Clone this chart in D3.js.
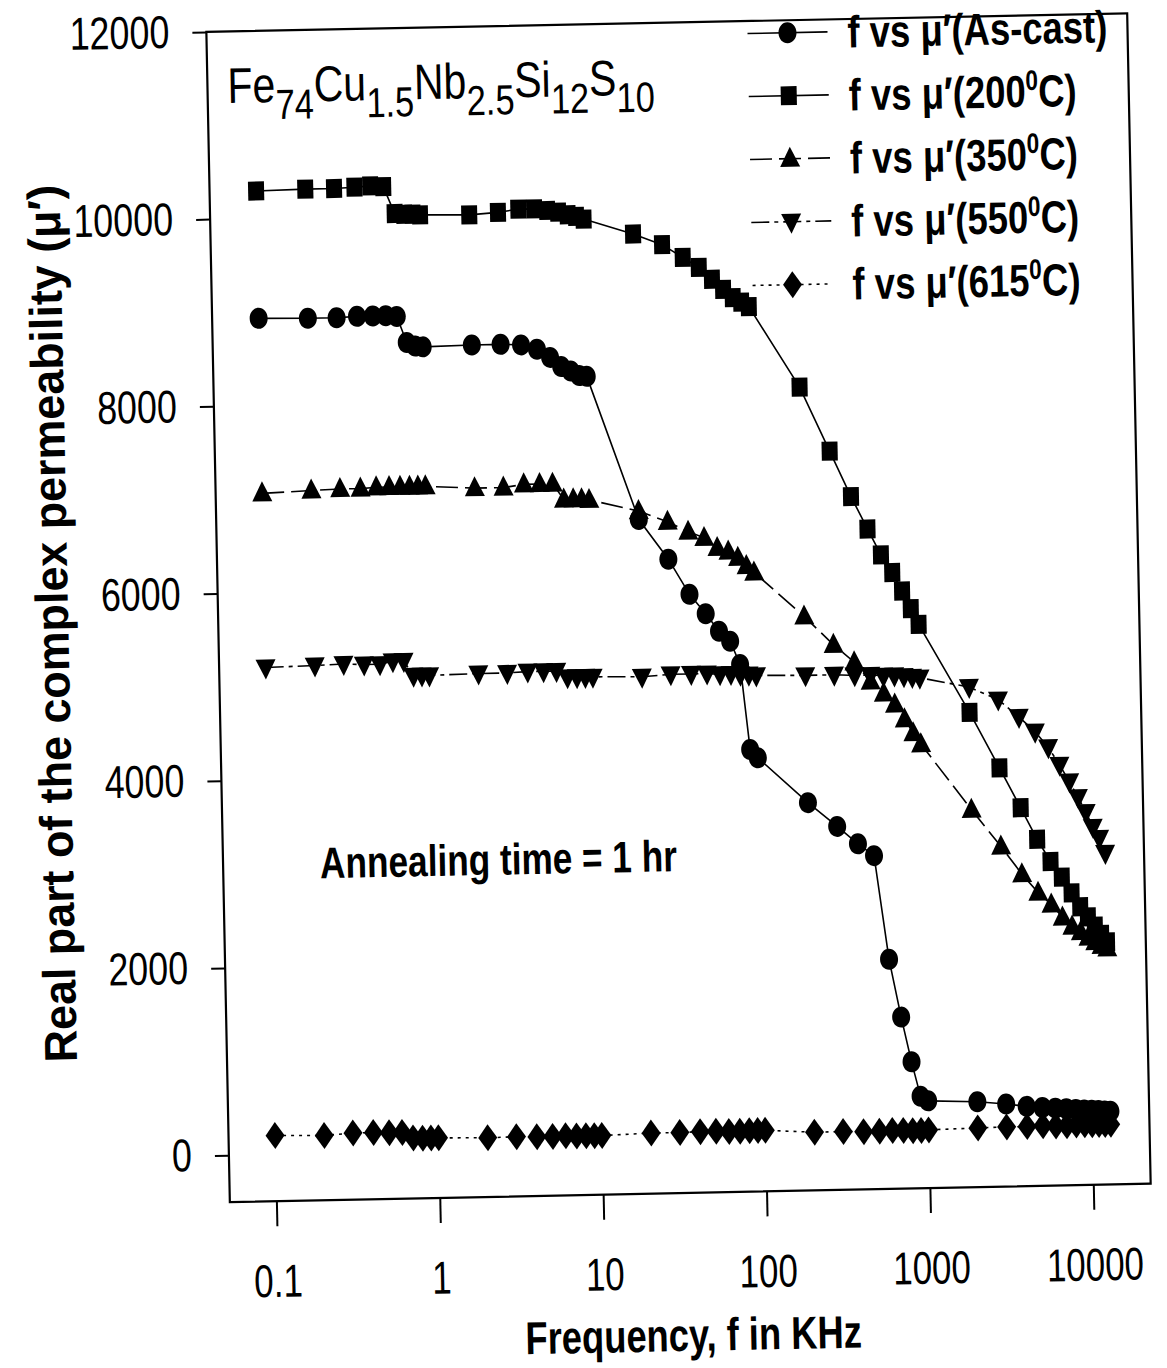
<!DOCTYPE html>
<html>
<head>
<style>
  body { margin: 0; background: #fff; }
  svg { display: block; background: #fff; }
  text { font-family: "Liberation Sans", Arial, sans-serif; fill: #000; }
</style>
</head>
<body>
<svg width="1167" height="1368"></svg>
<script src="https://d3js.org/d3.v7.min.js"></script>
<script>
// frequency in kHz (same sweep for every sample)
const freq = [0.1, 0.2, 0.3, 0.4, 0.5, 0.6, 0.7, 0.8, 0.9, 1,
  2, 3, 4, 5, 6, 7, 8, 9, 10,
  20, 30, 40, 50, 60, 70, 80, 90, 100,
  200, 300, 400, 500, 600, 700, 800, 900, 1000,
  2000, 3000, 4000, 5000, 6000, 7000, 8000, 9000, 10000, 11000, 12000, 13000];

const muAsCast = [8930, 8920, 8920, 8930, 8930, 8930, 8920, 8640, 8600, 8590,
  8600, 8600, 8590, 8540, 8450, 8350, 8300, 8250, 8240,
  6700, 6270, 5890, 5680, 5490, 5380, 5130, 4220, 4130,
  3640, 3380, 3190, 3060, 1950, 1330, 850, 480, 430,
  410, 380, 350, 335, 325, 315, 305, 300, 295, 290, 285, 280];

const mu200 = [10290, 10300, 10300, 10310, 10320, 10310, 10020, 10010, 10010, 10000,
  9990, 10010, 10040, 10040, 10020, 10000, 9970, 9950, 9920,
  9750, 9630, 9490, 9380, 9250, 9140, 9050, 9000, 8950,
  8080, 7390, 6900, 6550, 6270, 6080, 5880, 5690, 5520,
  4570, 3970, 3540, 3200, 2960, 2790, 2620, 2470, 2360, 2260, 2170, 2090];

const mu350 = [7060, 7080, 7090, 7090, 7100, 7100, 7100, 7100, 7100, 7100,
  7070, 7070, 7100, 7100, 7100, 6930, 6930, 6930, 6920,
  6790, 6670, 6560, 6490, 6380, 6340, 6270, 6180, 6110,
  5630, 5320, 5130, 4920, 4790, 4670, 4510, 4360, 4240,
  3530, 3130, 2830, 2630, 2500, 2360, 2260, 2200, 2140, 2090, 2050, 2020];

const mu550 = [5200, 5210, 5220, 5210, 5210, 5240, 5240, 5080, 5080, 5080,
  5090, 5090, 5100, 5100, 5100, 5030, 5030, 5030, 5030,
  5020, 5040, 5040, 5040, 5030, 5030, 5020, 5020, 5010,
  5000, 5000, 4990, 4990, 4980, 4980, 4970, 4960, 4950,
  4840, 4700, 4510, 4350, 4180, 3990, 3810, 3640, 3480, 3320, 3200, 3040];

const mu615 = [200, 190, 210, 210, 205, 205, 145, 140, 140, 140,
  130, 135, 130, 130, 135, 130, 130, 130, 130,
  145, 145, 150, 150, 145, 145, 150, 150, 150,
  120, 120, 115, 115, 120, 120, 115, 115, 120,
  130, 135, 135, 140, 135, 135, 140, 140, 140, 140, 140, 140];

const seriesNames = ["As-cast", "200", "350", "550", "615"];
const xTicks = [0.1, 1, 10, 100, 1000, 10000];
const xTickLabels = ["0.1", "1", "10", "100", "1000", "10000"];
const yTicks = [0, 2000, 4000, 6000, 8000, 10000, 12000];

const width = 1167, height = 1368;
const frame = { left: 218, right: 1139, top: 22.5, bottom: 1193 };
const narrow = 0.78; // the scan's lettering is condensed

const svg = d3.select("svg").attr("viewBox", [0, 0, width, height]);

// the scanned figure is tilted a little
const root = svg.append("g").attr("transform", "rotate(-1.15, 680, 607)");

const x = d3.scaleLog().domain([0.0519, 22450]).range([frame.left, frame.right]);
const y = d3.scaleLinear().domain([-502, 12000]).range([frame.bottom, frame.top]);

// condensed text helper
function addText(parent, tx, ty, size, sx, weight) {
  return parent.append("g")
    .attr("transform", `translate(${tx},${ty}) scale(${sx},1)`)
    .append("text")
    .attr("font-size", size)
    .attr("font-weight", weight || "normal");
}

// markers (scan is a bit taller than wide)
const markers = {
  circle: "M0,-10.5C5,-10.5 9,-6 9,0C9,6 5,10.5 0,10.5C-5,10.5 -9,6 -9,0C-9,-6 -5,-10.5 0,-10.5Z",
  square: "M-8,-9.5L8,-9.5L8,9.5L-8,9.5Z",
  triangle: "M0,-12L10,8L-10,8Z",
  triangleDown: "M0,12L10,-8L-10,-8Z",
  diamond: "M0,-13.5L9.5,0L0,13.5L-9.5,0Z"
};

const series = [
  { values: muAsCast, marker: "circle", dash: null },
  { values: mu200, marker: "square", dash: null },
  { values: mu350, marker: "triangle", dash: "22,7" },
  { values: mu550, marker: "triangleDown", dash: "18,5,4,5" },
  { values: mu615, marker: "diamond", dash: "3,5" }
];

// frame
root.append("rect")
  .attr("x", frame.left).attr("y", frame.top)
  .attr("width", frame.right - frame.left).attr("height", frame.bottom - frame.top)
  .attr("fill", "none").attr("stroke", "#000").attr("stroke-width", 2.2);

// y axis
const yAxis = root.append("g")
  .attr("transform", `translate(${frame.left},0)`)
  .call(d3.axisLeft(y).tickValues(yTicks).tickSize(14).tickFormat(d3.format("d")));
yAxis.select(".domain").remove();
yAxis.selectAll(".tick line").attr("stroke", "#000").attr("stroke-width", 2);
yAxis.selectAll("text")
  .attr("font-family", null)
  .attr("font-size", 46)
  .attr("fill", "#000")
  .attr("x", 0)
  .attr("transform", `translate(-37,0) scale(${narrow},1)`);

// x axis
const xAxis = root.append("g")
  .attr("transform", `translate(0,${frame.bottom})`)
  .call(d3.axisBottom(x).tickValues(xTicks).tickSize(25).tickPadding(38)
    .tickFormat((d, i) => xTickLabels[i]));
xAxis.select(".domain").remove();
xAxis.selectAll(".tick line").attr("stroke", "#000").attr("stroke-width", 2);
xAxis.selectAll("text")
  .attr("font-family", null)
  .attr("font-size", 46)
  .attr("fill", "#000")
  .attr("transform", "scale(0.76,1)");

// curves
const line = d3.line()
  .x((d, i) => x(freq[i]))
  .y(d => y(d));

series.forEach(s => {
  root.append("path")
    .attr("d", line(s.values))
    .attr("fill", "none")
    .attr("stroke", "#000")
    .attr("stroke-width", 1.6)
    .attr("stroke-dasharray", s.dash);

  root.append("g")
    .selectAll("path")
    .data(s.values)
    .join("path")
    .attr("transform", (d, i) => `translate(${x(freq[i])},${y(d)})`)
    .attr("d", markers[s.marker])
    .attr("fill", "#000");
});

// legend
const legendRows = [35, 98, 161, 224, 287];
const legend = root.append("g");
series.forEach((s, i) => {
  const ly = legendRows[i];
  legend.append("line")
    .attr("x1", 759).attr("x2", 839).attr("y1", ly).attr("y2", ly)
    .attr("stroke", "#000").attr("stroke-width", 1.6)
    .attr("stroke-dasharray", s.dash);
  legend.append("path")
    .attr("transform", `translate(799,${ly})`)
    .attr("d", markers[s.marker])
    .attr("fill", "#000");
  const t = addText(legend, 859, ly + 16, 45, 0.81, "bold");
  if (i === 0) {
    t.text("f vs \u03bc\u2032(As-cast)");
  } else {
    t.append("tspan").text(`f vs \u03bc\u2032(${seriesNames[i]}`);
    t.append("tspan").attr("font-size", 28).attr("dy", -17).text("0");
    t.append("tspan").attr("dy", 17).text("C)");
  }
});

// composition
const title = addText(root, 238, 94, 50, 0.82, "normal");
[["Fe", "74"], ["Cu", "1.5"], ["Nb", "2.5"], ["Si", "12"], ["S", "10"]].forEach(([el, sub], i) => {
  title.append("tspan").attr("dy", i === 0 ? 0 : -17).attr("font-size", 50).text(el);
  title.append("tspan").attr("dy", 17).attr("font-size", 42).text(sub);
});

addText(root, 315, 871, 44, 0.8, "bold").text("Annealing time = 1 hr");

// axis titles
addText(root, 679, 1351, 46, 0.79, "bold")
  .attr("text-anchor", "middle")
  .text("Frequency, f in KHz");

root.append("g")
  .attr("transform", "translate(68,611) rotate(-90) scale(0.975,1)")
  .append("text")
  .attr("text-anchor", "middle")
  .attr("font-size", 46).attr("font-weight", "bold")
  .text("Real part of the complex permeability (\u03bc\u2032)");
</script>
</body>
</html>
